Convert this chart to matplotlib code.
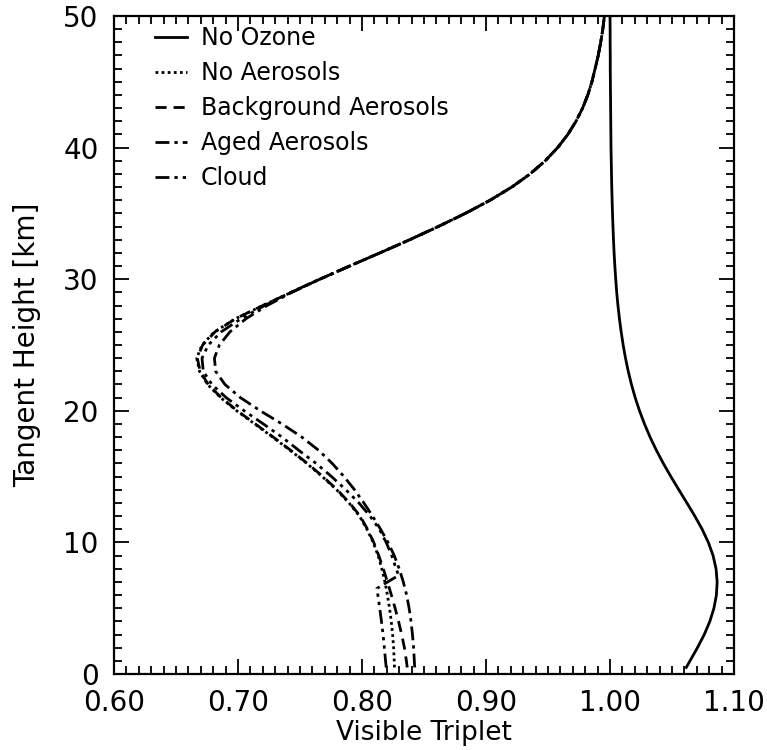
import matplotlib
matplotlib.use("Agg")
import matplotlib.pyplot as plt
from matplotlib.ticker import MultipleLocator, FormatStrFormatter

# tangent heights [km]
h = [0.5, 1, 2, 3, 4, 5, 6, 7, 8, 9, 10, 11, 12, 13, 14, 15, 16, 17, 18, 19, 20,
     21, 22, 23, 24, 25, 26, 27, 28, 29, 30, 31, 32, 33, 34, 35, 36, 37, 38, 39, 40,
     41, 42, 43, 44, 45, 46, 47, 48, 49, 50]
# cloud run has a step at the cloud top
h_cloud = [0.5, 1, 2, 3, 4, 5, 6, 6.5, 7.5, 8, 9, 10, 11, 12, 13, 14, 15, 16, 17, 18, 19, 20,
           21, 22, 23, 24, 25, 26, 27, 28, 29, 30, 31, 32, 33, 34, 35, 36, 37, 38, 39, 40,
           41, 42, 43, 44, 45, 46, 47, 48, 49, 50]

no_ozone = [1.0615, 1.0645, 1.0705, 1.0760, 1.0805, 1.0838, 1.0858, 1.0864, 1.0855, 1.0831, 1.0793,
            1.0743, 1.0684, 1.0620, 1.0555, 1.0491, 1.0430, 1.0374, 1.0323, 1.0278, 1.0238,
            1.0203, 1.0173, 1.0147, 1.0125, 1.0106, 1.0090, 1.0076, 1.0064, 1.0054, 1.0046,
            1.0039, 1.0033, 1.0028, 1.0024, 1.0020, 1.0017, 1.0014, 1.0012, 1.0010, 1.0008,
            1.0007, 1.0006, 1.0005, 1.0004, 1.0003, 1.0002, 1.0002, 1.0001, 1.0001, 1.0000]

no_aerosols = [0.8262, 0.8260, 0.8255, 0.8247, 0.8236, 0.8222, 0.8205, 0.8185, 0.816, 0.813, 0.809,
               0.804, 0.798, 0.7895, 0.7795, 0.768, 0.7555, 0.742, 0.728, 0.7135, 0.699,
               0.686, 0.6755, 0.669, 0.6667, 0.671, 0.681, 0.698, 0.720, 0.743, 0.766,
               0.790, 0.8145, 0.8385, 0.8615, 0.8833, 0.9033, 0.9208, 0.9356, 0.9478, 0.9578,
               0.966, 0.9726, 0.9779, 0.9821, 0.9854, 0.988, 0.9905, 0.9925, 0.9942, 0.9955]

background = [0.8365, 0.8358, 0.8342, 0.832, 0.8295, 0.8267, 0.8237, 0.8205, 0.8172, 0.8135, 0.8095,
              0.8045, 0.7985, 0.790, 0.780, 0.7685, 0.756, 0.7425, 0.7285, 0.714, 0.6995,
              0.6865, 0.676, 0.6695, 0.6672, 0.6715, 0.6815, 0.698, 0.720, 0.743, 0.766,
              0.790, 0.8145, 0.8385, 0.8615, 0.8833, 0.9033, 0.9208, 0.9356, 0.9478, 0.9578,
              0.966, 0.9726, 0.9779, 0.9821, 0.9854, 0.988, 0.9905, 0.9925, 0.9942, 0.9955]

aged = [0.8425, 0.8422, 0.8416, 0.8407, 0.8395, 0.838, 0.836, 0.8333, 0.830, 0.826, 0.821,
        0.815, 0.8085, 0.8015, 0.794, 0.7855, 0.776, 0.765, 0.7515, 0.7355, 0.718,
        0.702, 0.6895, 0.682, 0.681, 0.685, 0.6935, 0.7065, 0.7235, 0.7435, 0.766,
        0.790, 0.8145, 0.8385, 0.8615, 0.8833, 0.9033, 0.9208, 0.9356, 0.9478, 0.9578,
        0.966, 0.9726, 0.9779, 0.9821, 0.9854, 0.988, 0.9905, 0.9925, 0.9942, 0.9955]

cloud = [0.8195, 0.819, 0.818, 0.817, 0.8157, 0.8143, 0.8128, 0.812, 0.8295, 0.8275, 0.824, 0.8195,
         0.814, 0.8065, 0.7975, 0.787, 0.7755, 0.763, 0.749, 0.7355, 0.7205, 0.705,
         0.6905, 0.679, 0.672, 0.671, 0.676, 0.6865, 0.7025, 0.7215, 0.7425, 0.766,
         0.790, 0.8145, 0.8385, 0.8615, 0.8833, 0.9033, 0.9208, 0.9356, 0.9478, 0.9578,
         0.966, 0.9726, 0.9779, 0.9821, 0.9854, 0.988, 0.9905, 0.9925, 0.9942, 0.9955]

labels = ['No Ozone', 'No Aerosols', 'Background Aerosols', 'Aged Aerosols', 'Cloud']

fig = plt.figure(figsize=(7.67, 7.5), dpi=100)
ax = fig.add_axes([0.1486, 0.1013, 0.8084, 0.8774])

lw = 2.0
ax.plot(no_ozone, h, color='k', lw=lw, linestyle='-', label=labels[0])
ax.plot(no_aerosols, h, color='k', lw=lw, linestyle=(0, (1, 1.2)), label=labels[1])
ax.plot(background, h, color='k', lw=lw, linestyle=(0, (4, 2.5)), label=labels[2])
ax.plot(aged, h, color='k', lw=lw, linestyle=(0, (5, 1.8, 1.2, 1.8)), label=labels[3])
ax.plot(cloud, h_cloud, color='k', lw=lw,
        linestyle=(0, (5, 1.8, 1.2, 1.8, 1.2, 1.8, 1.2, 1.8)), label=labels[4])

ax.set_xlim(0.60, 1.10)
ax.set_ylim(0, 50)
ax.xaxis.set_major_locator(MultipleLocator(0.1))
ax.xaxis.set_minor_locator(MultipleLocator(0.01))
ax.yaxis.set_major_locator(MultipleLocator(10))
ax.yaxis.set_minor_locator(MultipleLocator(1))
ax.xaxis.set_major_formatter(FormatStrFormatter('%.2f'))
ax.tick_params(which='both', direction='in', top=True, right=True, width=1.3,
               labelsize=20, pad=11)
ax.tick_params(which='major', length=11)
ax.tick_params(which='minor', length=6)
for s in ax.spines.values():
    s.set_linewidth(1.6)

ax.set_xlabel('Visible Triplet', fontsize=19, labelpad=2)
ax.set_ylabel('Tangent Height [km]', fontsize=20, labelpad=16)

ax.legend(loc='upper left', bbox_to_anchor=(0.066, 0.985), frameon=False, fontsize=17,
          handlelength=1.35, handletextpad=0.6, labelspacing=0.47, borderaxespad=0,
          borderpad=0)

fig.savefig('out.png', dpi=100)
